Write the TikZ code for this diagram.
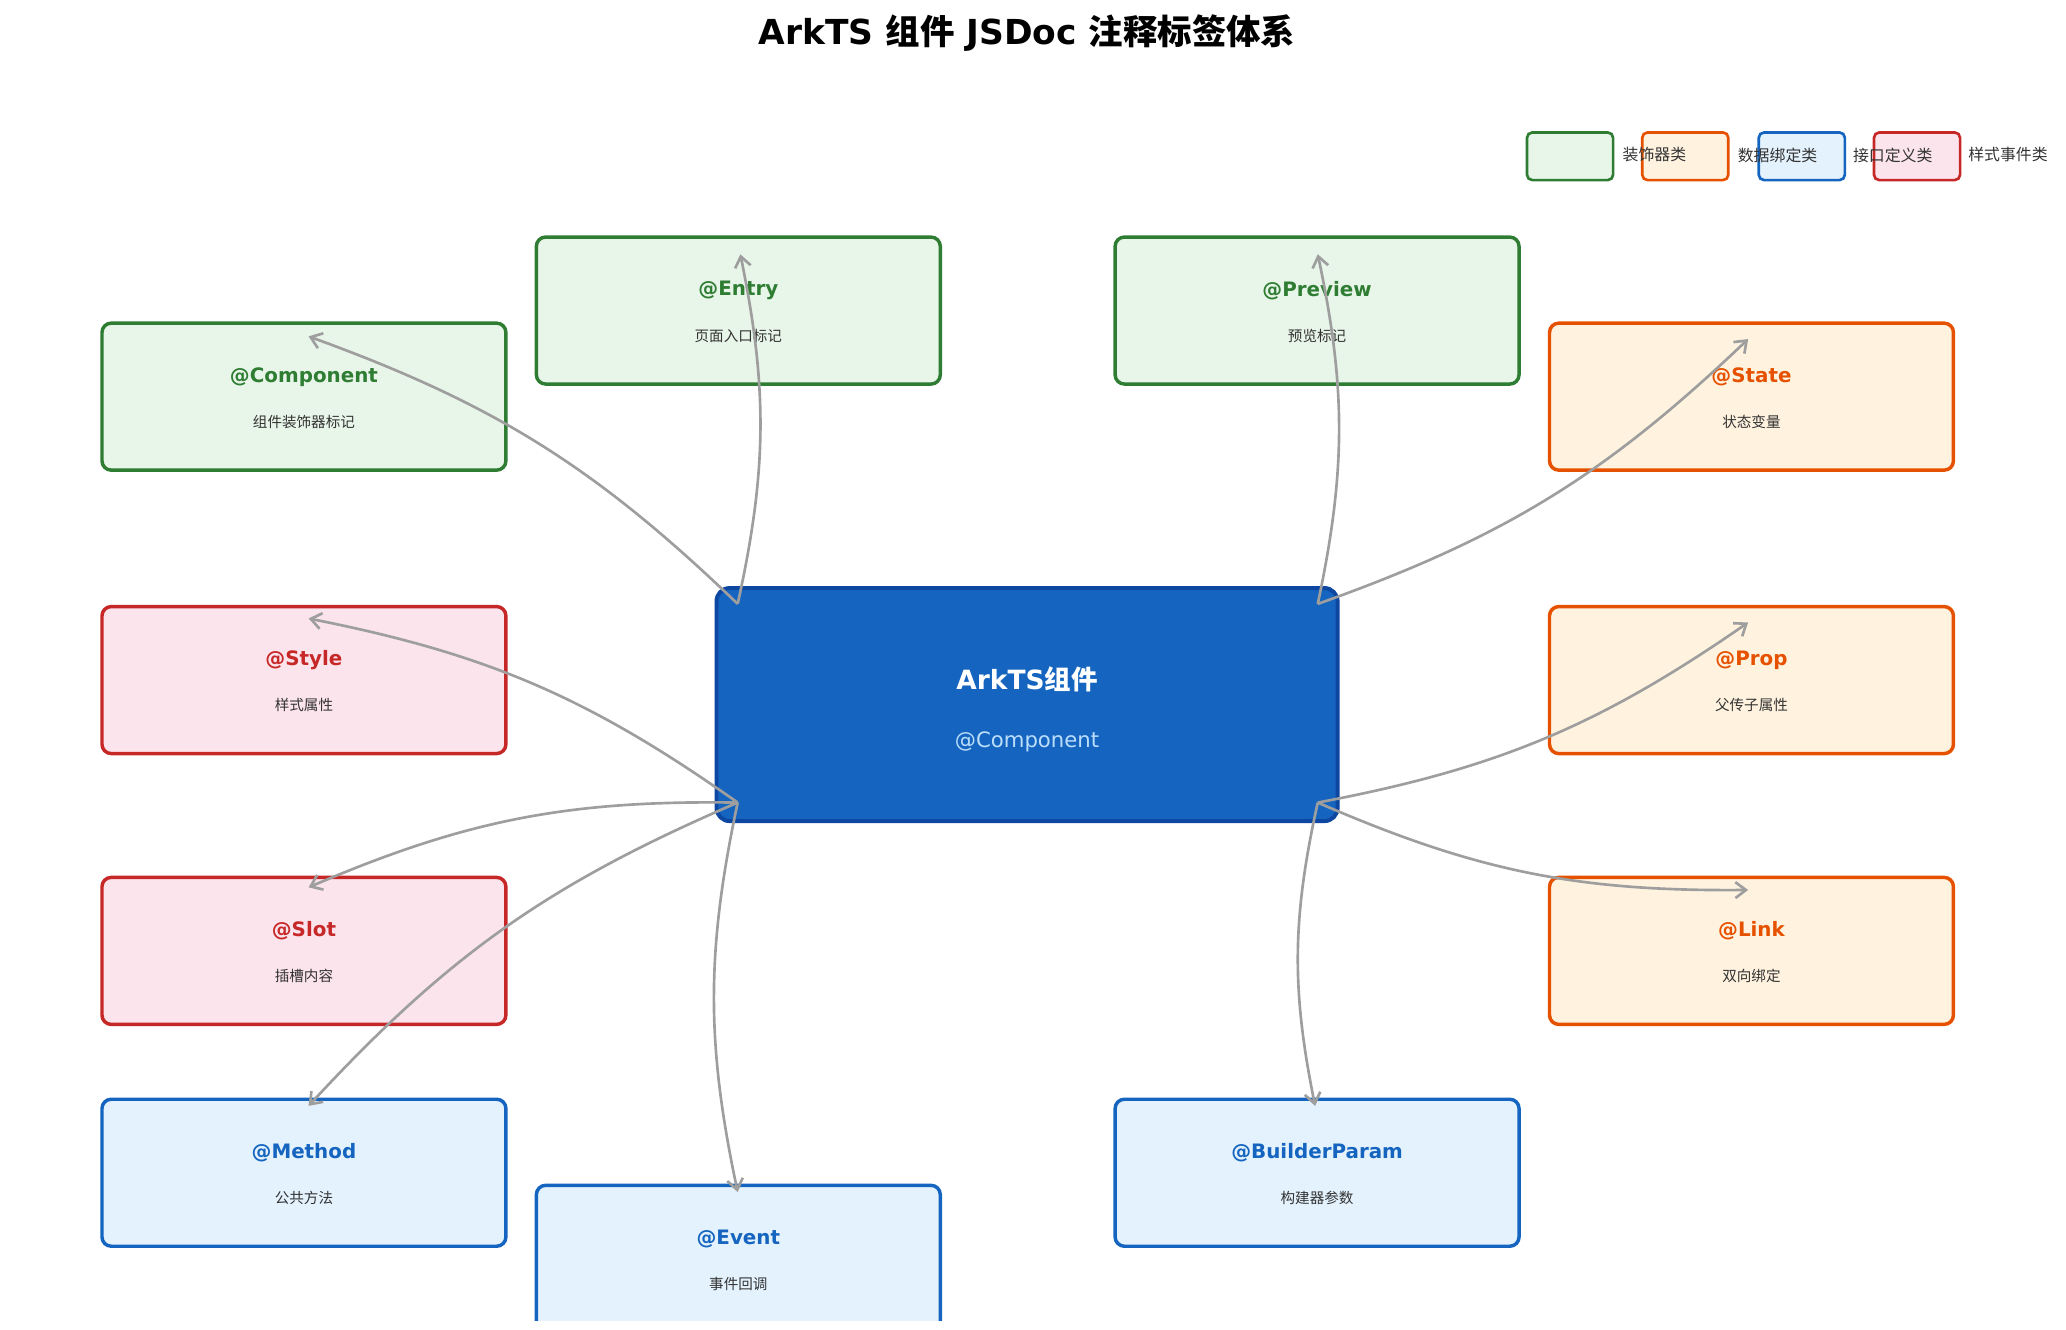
\documentclass[tikz,border=0pt]{standalone}
\usepackage{fontspec}
\setmainfont{DejaVu Sans}
\newfontfamily\cjk{Noto Sans CJK SC}
\usetikzlibrary{arrows.meta}
\definecolor{gB}{HTML}{2E7D32}\definecolor{gF}{HTML}{E8F5E9}
\definecolor{oB}{HTML}{E65100}\definecolor{oF}{HTML}{FFF3E0}
\definecolor{bB}{HTML}{1565C0}\definecolor{bF}{HTML}{E3F2FD}
\definecolor{rB}{HTML}{C62828}\definecolor{rF}{HTML}{FCE4EC}
\definecolor{cB}{HTML}{0D47A1}\definecolor{cS}{HTML}{BBDEFB}
\definecolor{ar}{HTML}{9E9E9E}\definecolor{tx}{HTML}{333333}
\newcommand{\tagbox}[6]{% name, x, y, color, title, sub
  \node[box,draw=#4B,fill=#4F] (#1) at (#2,#3) {};
  \node[font=\bfseries\fontsize{15}{18}\selectfont,text=#4B] (#1t) at (#2,#3-15) {#5};
  \node[font=\cjk\fontsize{11}{13}\selectfont,text=tx] (#1s) at (#2,#3+19) {#6};}
\tikzset{box/.style={rectangle,rounded corners=7pt,line width=2.6pt,minimum width=305pt,minimum height=111pt},
  con/.style={draw=ar,line width=2pt,-{Straight Barb[length=8pt,width=12pt]},bend right=12},
  leg/.style={rectangle,rounded corners=4pt,line width=2pt,minimum width=65pt,minimum height=36pt},
  legt/.style={font=\cjk\fontsize{12}{14}\selectfont,text=tx,anchor=west,inner sep=0pt}}
\begin{document}
\begin{tikzpicture}[x=1pt,y=-1pt]
\useasboundingbox (0,0) rectangle (1560,1004);
\node[font=\bfseries\fontsize{26}{30}\selectfont] (title) at (775.5,25) {ArkTS {\cjk 组件} JSDoc {\cjk 注释标签体系}};
\begin{scope}
\clip (0,0) rectangle (1560,997);
\tagbox{comp}{229.5}{299.5}{g}{@Component}{组件装饰器标记}
\tagbox{entry}{557.5}{234.5}{g}{@Entry}{页面入口标记}
\tagbox{prev}{994.5}{234.5}{g}{@Preview}{预览标记}
\tagbox{state}{1322.5}{299.5}{o}{@State}{状态变量}
\tagbox{prop}{1322.5}{513.5}{o}{@Prop}{父传子属性}
\tagbox{link}{1322.5}{718}{o}{@Link}{双向绑定}
\tagbox{style}{229.5}{513.5}{r}{@Style}{样式属性}
\tagbox{slot}{229.5}{718}{r}{@Slot}{插槽内容}
\tagbox{meth}{229.5}{885.5}{b}{@Method}{公共方法}
\tagbox{bp}{994.5}{885.5}{b}{@BuilderParam}{构建器参数}
\tagbox{ev}{557.5}{950.5}{b}{@Event}{事件回调}
\end{scope}
\node[rectangle,rounded corners=10pt,line width=3pt,draw=cB,fill=bB,minimum width=469pt,minimum height=176pt] (c) at (775.5,532) {};
\node[font=\bfseries\fontsize{20}{24}\selectfont,text=white] (ct) at (775.5,513) {ArkTS{\cjk 组件}};
\node[font=\fontsize{16}{19}\selectfont,text=cS] (cs) at (775.5,560) {@Component};
\coordinate (tl) at (557,456); \coordinate (tr) at (995,456);
\coordinate (bl) at (557,606); \coordinate (br) at (995,606);
\coordinate (a1) at (233,254); \coordinate (a2) at (559,192);
\coordinate (a3) at (995,192); \coordinate (a4) at (1320,256);
\coordinate (a5) at (233,467); \coordinate (a6) at (1320,470);
\coordinate (a7) at (233,670); \coordinate (a8) at (1320,672);
\coordinate (a9) at (233,835); \coordinate (a10) at (557,900);
\coordinate (a11) at (993,835);
\draw[con] (tl) to (a1); \draw[con] (tl) to (a2);
\draw[con] (tr) to (a3); \draw[con] (tr) to (a4);
\draw[con] (bl) to (a5); \draw[con] (br) to (a6);
\draw[con] (bl) to (a7); \draw[con] (br) to (a8);
\draw[con] (bl) to (a9); \draw[con] (bl) to (a10);
\draw[con] (br) to (a11);
\node[leg,draw=gB,fill=gF] (l1) at (1185.5,118) {};
\node[leg,draw=oB,fill=oF] (l2) at (1272.5,118) {};
\node[leg,draw=bB,fill=bF] (l3) at (1360.5,118) {};
\node[leg,draw=rB,fill=rF] (l4) at (1447.5,118) {};
\node[legt] (t1) at (1225,117) {装饰器类};
\node[legt] (t2) at (1312,117) {数据绑定类};
\node[legt] (t3) at (1399,117) {接口定义类};
\node[legt] (t4) at (1486,117) {样式事件类};
\end{tikzpicture}
\end{document}
